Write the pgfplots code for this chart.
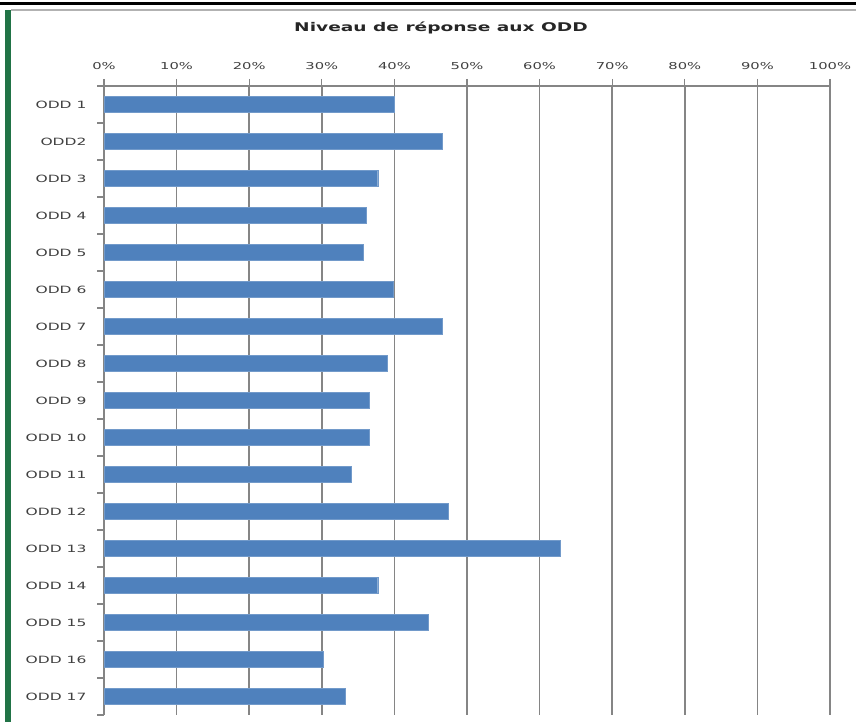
\documentclass[border=0pt]{standalone}
\usepackage{fontspec}
\setmainfont{DejaVu Sans}[FakeStretch=1.55]
\usepackage{pgfplots}
\pgfplotsset{compat=1.18}

\definecolor{barblue}{HTML}{4F81BD}
\definecolor{gridgray}{HTML}{858585}
\definecolor{xlgreen}{HTML}{217346}

\begin{document}
\begin{tikzpicture}[x=1pt, y=1pt]
\useasboundingbox (0,0) rectangle (856,722);
% screenshot frame bits
\fill[xlgreen] (5,0) rectangle (11,712);
\draw[black, line width=3pt] (0,718) -- (856,718);
\draw[gray!60, line width=1.5pt] (11,712) -- (856,712);
\node[font=\bfseries\fontsize{12}{14}\selectfont, text=black!85] at (441,694) {Niveau de réponse aux ODD};

\begin{axis}[
  at={(104pt,7pt)}, anchor=south west,
  scale only axis, width=726pt, height=629pt,
  xmin=0, xmax=100, ymin=0.5, ymax=17.5,
  y dir=reverse,
  axis x line=top, axis y line=left,
  axis line style={-, draw=gridgray, line width=1.3pt},
  xtick={0,10,...,100},
  xmajorgrids, grid style={gridgray, line width=1.6pt},
  xticklabel={\pgfmathprintnumber{\tick}\%},
  /pgf/number format/assume math mode=true,
  xticklabel style={font=\fontsize{9.5}{11}\selectfont, text=black!75, yshift=6pt},
  ytick={0.5,1.5,...,17.5}, yticklabels={},
  extra y ticks={1,...,17},
  extra y tick labels={ODD 1,ODD2,ODD 3,ODD 4,ODD 5,ODD 6,ODD 7,ODD 8,ODD 9,ODD 10,ODD 11,ODD 12,ODD 13,ODD 14,ODD 15,ODD 16,ODD 17},
  extra y tick style={major tick length=0pt, yticklabel style={font=\fontsize{10}{12}\selectfont, text=black!75, xshift=-14pt}},
  tick align=outside, major tick length=7pt,
  tick style={gridgray, line width=1.3pt},
  xbar, bar width=16pt,
]
\addplot[fill=barblue, draw=barblue!80!white] coordinates {
  (40.0,1) (46.6,2) (37.7,3) (36.1,4) (35.7,5) (39.8,6) (46.6,7) (39.0,8) (36.5,9)
  (36.5,10) (34.0,11) (47.4,12) (62.8,13) (37.7,14) (44.6,15) (30.2,16) (33.2,17)
};
\end{axis}
\end{tikzpicture}
\end{document}
